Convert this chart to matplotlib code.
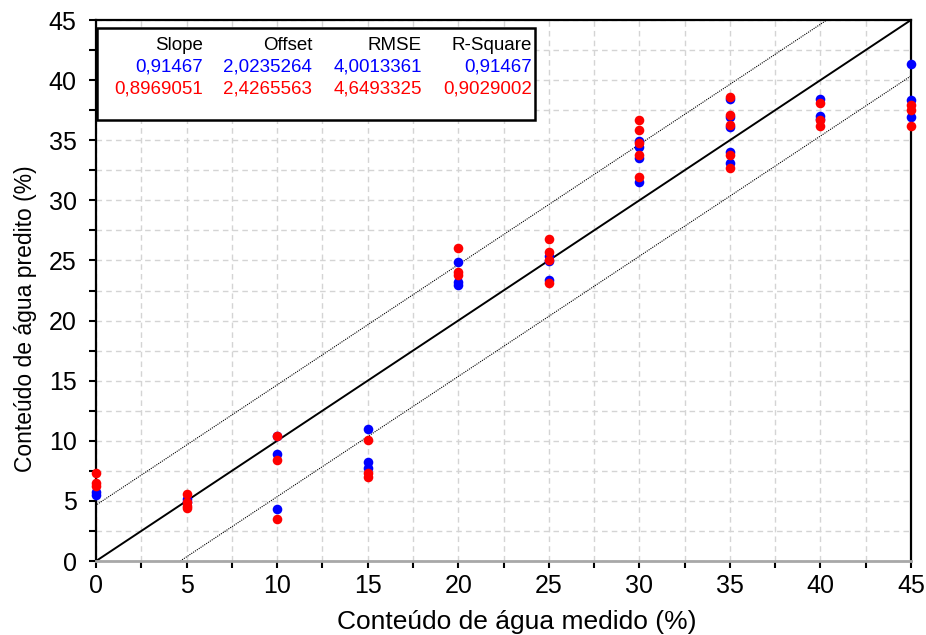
import matplotlib
matplotlib.use('Agg')
import matplotlib.pyplot as plt
import numpy as np
from matplotlib.patches import Rectangle
from matplotlib.ticker import MultipleLocator

plt.rcParams['font.family'] = ['Liberation Sans', 'DejaVu Sans']

# ── data ──
x_blue = [0, 0, 5, 5, 10, 10, 10, 15, 15, 15, 20, 20, 20, 25, 25, 25,
          30, 30, 30, 30, 35, 35, 35, 35, 35, 40, 40, 40, 45, 45, 45]
y_blue = [5.7, 5.5, 5.2, 4.9, 10.4, 8.9, 4.3, 11.0, 8.2, 7.7, 24.85, 23.2, 22.95,
          25.4, 24.95, 23.4, 34.9, 34.4, 33.5, 31.5, 38.4, 36.95, 36.1, 34.0, 33.1,
          38.4, 37.0, 36.8, 41.35, 38.35, 36.95]
x_red = [0, 0, 0, 5, 5, 5, 5, 10, 10, 10, 15, 15, 15, 20, 20, 20, 25, 25, 25, 25,
         30, 30, 30, 30, 30, 35, 35, 35, 35, 35, 40, 40, 40, 45, 45, 45]
y_red = [7.3, 6.5, 6.2, 5.6, 4.9, 4.6, 4.4, 10.4, 8.4, 3.5, 10.1, 7.3, 7.0,
         26.0, 24.0, 23.8, 26.8, 25.7, 25.05, 23.1, 36.7, 35.85, 34.8, 33.8, 31.9,
         38.6, 37.1, 36.3, 33.8, 32.7, 38.1, 36.7, 36.2, 37.9, 37.5, 36.15]

headers = ['Slope', 'Offset', 'RMSE', 'R-Square']
stats_blue = ['0,91467', '2,0235264', '4,0013361', '0,91467']
stats_red = ['0,8969051', '2,4265563', '4,6493325', '0,9029002']
band = 4.6493325  # RMSE used for the dotted band

fig = plt.figure(figsize=(9.26, 6.35), dpi=100)
ax = fig.add_axes([0.1037, 0.1165, 0.8801, 0.852])

ax.set_xlim(0, 45)
ax.set_ylim(0, 45)

# grid every 2.5
ax.xaxis.set_major_locator(MultipleLocator(5))
ax.xaxis.set_minor_locator(MultipleLocator(2.5))
ax.yaxis.set_major_locator(MultipleLocator(5))
ax.yaxis.set_minor_locator(MultipleLocator(2.5))
ax.grid(which='both', color='#d4d4d4', linestyle=(0, (4, 3)), linewidth=1.0)
ax.set_axisbelow(True)

# 1:1 line and +/- band
xx = np.array([-10, 60])
ax.plot(xx, xx, color='black', lw=1.4, zorder=2)
ax.plot(xx, xx + band, color='black', lw=0.8, ls=(0, (1, 1)), zorder=2)
ax.plot(xx, xx - band, color='black', lw=0.8, ls=(0, (1, 1)), zorder=2)

ax.scatter(x_blue, y_blue, s=48, color='#0000ff', zorder=3, clip_on=False, linewidths=0)
ax.scatter(x_red, y_red, s=48, color='#ff0000', zorder=4, clip_on=False, linewidths=0)

ax.tick_params(which='both', direction='out', length=5, width=1.5, labelsize=18,
               top=False, right=False, color='black')
ax.tick_params(axis='x', pad=4)
ax.tick_params(axis='y', pad=9)
for s in ['left', 'top', 'right']:
    ax.spines[s].set_linewidth(1.6)
    ax.spines[s].set_color('black')
ax.spines['bottom'].set_linewidth(2.0)
ax.spines['bottom'].set_color('#a8a8a8')

ax.set_xlabel('Conteúdo de água medido (%)', fontsize=19)
ax.set_ylabel('Conteúdo de água predito (%)', fontsize=16.5)
ax.xaxis.set_label_coords(0.5166, -0.0906)
ax.yaxis.set_label_coords(-0.073, 0.447)

# stats table box
ax.add_patch(Rectangle((0.001, 0.815), 0.538, 0.170, transform=ax.transAxes,
                       facecolor='white', edgecolor='black', lw=1.8, zorder=5))
col_right = [203, 312, 422, 532]
row_y = [45, 67, 89]
for j, xr in enumerate(col_right):
    xf = (xr - 96) / 815
    for txt, yp, c in [(headers[j], row_y[0], 'black'),
                       (stats_blue[j], row_y[1], '#0000ff'),
                       (stats_red[j], row_y[2], '#ff0000')]:
        ax.text(xf, (561 - yp) / 541, txt, transform=ax.transAxes, ha='right',
                va='center', fontsize=13.5, color=c, zorder=6)

fig.savefig('out.png', dpi=100)
